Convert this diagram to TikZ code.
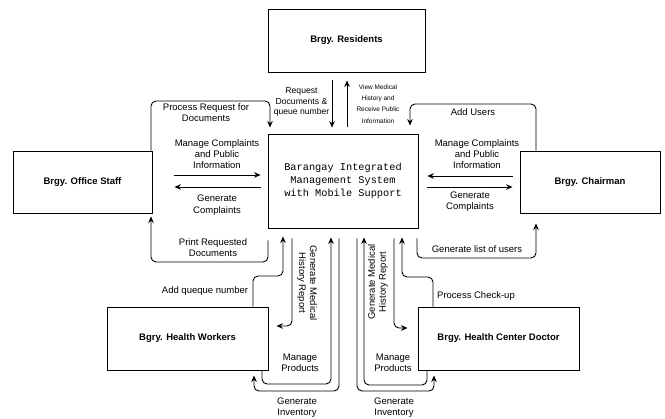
\documentclass[tikz,border=0pt]{standalone}
\usepackage{fontspec}
\setmainfont{Liberation Sans}
\setmonofont{Liberation Mono}
\usetikzlibrary{arrows.meta}
\begin{document}
\begin{tikzpicture}[x=1pt,y=-1pt,
  box/.style={draw, line width=0.9pt, inner sep=2pt, font=\bfseries\fontsize{9.5}{11}\selectfont},
  lbl/.style={font=\fontsize{9.5}{11}\selectfont, align=center, inner sep=0pt},
  small/.style={font=\fontsize{6.5}{11.3}\selectfont, align=center, inner sep=0pt},
  conn/.style={line width=0.9pt, rounded corners=5pt, -{Stealth[length=6.5pt,width=5.5pt]}}]
\useasboundingbox (0,0) rectangle (665,419);

% boxes
\node[box, minimum width=157pt, minimum height=63pt] (res) at (346.5,40.5) {Brgy. Residents};
\node[draw, line width=0.9pt, minimum width=150pt, minimum height=94pt, align=center,
      font=\ttfamily\fontsize{10.3}{13}\selectfont] (center) at (343,181)
      {Barangay Integrated\\Management System\\with Mobile Support};
\node[box, minimum width=139pt, minimum height=62pt] (staff) at (82.5,182) {Brgy. Office Staff};
\node[box, minimum width=140pt, minimum height=62pt] (chair) at (590,182) {Brgy. Chairman};
\node[box, minimum width=161pt, minimum height=63pt] (hw) at (187.5,338.5) {Bgry. Health Workers};
\node[box, minimum width=161pt, minimum height=63pt] (doc) at (498.5,338.5) {Brgy. Health Center Doctor};

% residents
\draw[conn, shorten <=8pt, shorten >=6pt] (res.south -| 332,0) -- (center.north -| 332,0);
\draw[conn, shorten <=7pt, shorten >=8pt] (center.north -| 347,0) -- (res.south -| 347,0);
\node[lbl, font=\fontsize{8.6}{10.5}\selectfont] (lreq) at (301.5,102) {Request\\Documents \&\\queue number};
\node[small] (lview) at (378,104) {View Medical\\History and\\Receive Public\\Information};

% office staff
\draw[conn, shorten >=6pt] (staff.north -| 151,0) |- (270,101) -- (center.north -| 270,0);
\node[lbl] (lproc) at (206,113) {Process Request for\\Documents};
\draw[conn, shorten <=22pt, shorten >=7pt] (staff.east |- 0,175) -- (center.west |- 0,175);
\draw[conn, shorten <=7pt, shorten >=22pt] (center.west |- 0,187) -- (staff.east |- 0,187);
\node[lbl] (lmcl) at (217,154) {Manage Complaints\\and Public\\Information};
\node[lbl, font=\fontsize{9.5}{12}\selectfont] (lgcl) at (217,205) {Generate\\Complaints};
\draw[conn, shorten <=12pt, shorten >=3pt] (center.south -| 268,0) |- (151,262) -- (staff.south -| 151,0);
\node[lbl] (lprint) at (213,248) {Print Requested\\Documents};

% chairman
\draw[conn, shorten >=8pt] (chair.north -| 536,0) |- (410,104) -- (center.north -| 410,0);
\node[lbl] (ladd) at (473,112) {Add Users};
\draw[conn, shorten <=7pt, shorten >=9pt] (chair.west |- 0,176) -- (center.east |- 0,176);
\draw[conn, shorten <=9pt, shorten >=7pt] (center.east |- 0,187) -- (chair.west |- 0,187);
\node[lbl] (lmcr) at (477,154) {Manage Complaints\\and Public\\Information};
\node[lbl] (lgcr) at (470,202) {Generate\\Complaints};
\draw[conn, shorten <=10pt, shorten >=10pt] (center.south -| 417,0) |- (536,258) -- (chair.south -| 536,0);
\node[lbl] (llist) at (477,249) {Generate list of users};

% health workers
\draw[conn, shorten >=8pt] (hw.north -| 253,0) -- (253,276) -| (center.south -| 283,0);
\node[lbl] (lqueue) at (205,291) {Add queque number};
\draw[conn, shorten <=10pt, shorten >=8pt] (center.south -| 292,0) |- (hw.east |- 0,326);
\node[lbl, rotate=-90] (lgmhl) at (307,283) {Generate Medical\\History Report};
\draw[conn, shorten >=9pt] (hw.south -| 262,0) |- (331,384) -- (center.south -| 331,0);
\node[lbl] (lmpl) at (300,363) {Manage\\Products};
\draw[conn, shorten <=10pt, shorten >=5pt] (center.south -| 339,0) |- (254,391) -- (hw.south -| 254,0);
\node[lbl] (lgil) at (297,408) {Generate\\Inventory};

% doctor
\draw[conn, shorten <=10pt, shorten >=5pt] (center.south -| 357,0) |- (434,391) -- (doc.south -| 434,0);
\node[lbl] (lgir) at (394,408) {Generate\\Inventory};
\draw[conn, shorten >=9pt] (doc.south -| 427,0) |- (364,385) -- (center.south -| 364,0);
\node[lbl] (lmpr) at (393,363) {Manage\\Products};
\draw[conn, shorten <=10pt, shorten >=10pt] (center.south -| 394,0) |- (doc.west |- 0,328);
\node[lbl, rotate=90] (lgmhr) at (378,282) {Generate Medical\\History Report};
\draw[conn, shorten >=9pt] (doc.north -| 433,0) -- (433,277) -| (center.south -| 402,0);
\node[lbl] (lcheck) at (476,296) {Process Check-up};
\end{tikzpicture}
\end{document}
